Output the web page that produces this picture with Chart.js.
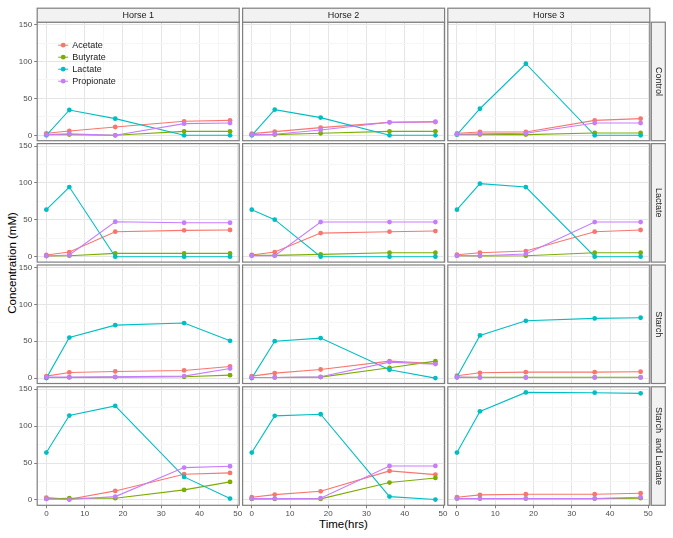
<!DOCTYPE html>
<html>
<head>
<meta charset="utf-8">
<script src="https://cdn.jsdelivr.net/npm/chart.js@4/dist/chart.umd.min.js"></script>
<style>
  body { margin: 0; background: #fff; }
  #wrap { position: relative; width: 673px; height: 538px; font-family: "Liberation Sans", Arial, sans-serif; }
  #wrap canvas { position: absolute; left: 0; top: 0; }
  #xtitle { position: absolute; left: 0; width: 687px; top: 518px; text-align: center; font-size: 11.5px; color: #000; }
  #ytitle { position: absolute; left: 12px; top: 263px; font-size: 11.5px; color: #000; white-space: nowrap;
            transform: translate(-50%, -50%) rotate(-90deg); }
</style>
</head>
<body>
<div id="wrap">
  <div id="xtitle">Time(hrs)</div>
  <div id="ytitle">Concentration (mM)</div>
</div>
<script>
var times = [0, 6, 18, 36, 48];
var horses = ['Horse 1', 'Horse 2', 'Horse 3'];
var treatments = ['Control', 'Lactate', 'Starch', 'Starch  and Lactate'];
var acids = ['Acetate', 'Butyrate', 'Lactate', 'Propionate'];
var acidColors = ['#F8766D', '#7CAE00', '#00BFC4', '#C77CFF'];
var xTicks = [0, 5, 10, 15, 20, 25, 30, 35, 40, 45, 50];
var yTicks = [0, 25, 50, 75, 100, 125, 150];

// one row per horse, one value per time point
var acetateControl = [[2.7, 5.9, 11.3, 19.0, 20.3], [2.3, 5.0, 10.4, 17.6, 18.0], [2.7, 4.5, 4.5, 20.3, 22.6]];
var butyrateControl = [[1.0, 1.0, 0.0, 5.4, 5.4], [0.5, 1.0, 2.7, 5.4, 5.4], [1.0, 1.0, 1.0, 3.2, 3.2]];
var lactateControl = [[0, 34.3, 22.6, 0, 0], [0, 34.8, 24.0, 0, 0], [1.0, 36.0, 97.0, 0, 0]];
var propionateControl = [[1.0, 2.0, 0.0, 15.8, 16.7], [1.0, 1.5, 7.2, 17.6, 18.5], [1.5, 2.0, 2.7, 16.7, 16.7]];

var acetateLactate = [[2.3, 6.3, 33.9, 35.7, 36.2], [2.3, 6.3, 32.0, 33.9, 34.8], [2.7, 5.4, 7.7, 33.9, 36.2]];
var butyrateLactate = [[1.0, 1.4, 4.5, 4.5, 4.5], [1.8, 1.8, 3.2, 5.4, 5.4], [1.4, 1.0, 1.4, 5.4, 5.4]];
var lactateLactate = [[63.7, 94.4, 0, 0, 0], [63.7, 50.2, 0, 0, 0], [63.7, 99.0, 94.4, 0, 0]];
var propionateLactate = [[1.0, 2.3, 47.4, 46.0, 46.0], [1.4, 1.4, 47.0, 47.0, 47.0], [1.4, 1.4, 3.6, 47.0, 47.0]];

var acetateStarch = [[2.7, 7.7, 9.0, 10.4, 15.8], [2.7, 6.8, 11.7, 23.0, 19.9], [3.2, 7.2, 8.1, 8.1, 8.6]];
var butyrateStarch = [[0.9, 0.9, 1.4, 1.8, 4.0], [0.9, 0.9, 1.4, 14.0, 23.0], [1.0, 1.0, 1.0, 1.0, 1.0]];
var lactateStarch = [[0, 55.0, 71.8, 74.6, 50.6], [0, 50.0, 54.2, 11.3, 0], [1.8, 57.8, 77.7, 80.9, 81.8]];
var propionateStarch = [[1.4, 1.4, 1.8, 2.7, 13.0], [0.9, 0.9, 1.8, 21.7, 19.0], [1.4, 0.9, 0.9, 0.9, 0.9]];

var acetateStarchLactate = [[3.2, 0.9, 12.2, 34.8, 36.6], [3.6, 7.2, 11.7, 39.3, 34.3], [3.6, 6.8, 7.7, 7.7, 9.0]];
var butyrateStarchLactate = [[1.4, 2.3, 2.3, 13.6, 24.4], [1.4, 1.4, 1.4, 23.5, 29.8], [1.8, 1.8, 1.8, 1.8, 2.3]];
var lactateStarchLactate = [[64.2, 114.3, 127.4, 31.2, 1.8], [64.2, 113.9, 116.1, 4.5, 0.5], [64.2, 120.0, 145.7, 145.3, 144.4]];
var propionateStarchLactate = [[1.4, 0.5, 4.5, 43.8, 45.6], [1.8, 1.8, 2.3, 46.0, 46.0], [1.8, 1.8, 1.8, 1.8, 3.6]];

// [treatment][acid] -> rows per horse
var table = [
    [acetateControl, butyrateControl, lactateControl, propionateControl],
    [acetateLactate, butyrateLactate, lactateLactate, propionateLactate],
    [acetateStarch, butyrateStarch, lactateStarch, propionateStarch],
    [acetateStarchLactate, butyrateStarchLactate, lactateStarchLactate, propionateStarchLactate]
];

// panel placement on the page
var W = 673, H = 538;
var colLeft = [37.2, 242.6, 447.8];
var panelW = 202;
var rowTop = [22.2, 143.6, 265, 386.8];
var panelH = 118.5;
var yAxisW = 26, xAxisH = 14;

var font = '"Liberation Sans", Arial, sans-serif';

var facetPlugin = {
    id: 'facet',
    afterDatasetsDraw: function (chart, args, opts) {
        var a = chart.chartArea, c = chart.ctx;
        c.save();
        c.strokeStyle = '#7f7f7f';
        c.lineWidth = 1.2;
        c.strokeRect(a.left, a.top, a.right - a.left, a.bottom - a.top);
        c.font = '9px ' + font;
        c.fillStyle = '#1a1a1a';
        c.textAlign = 'center';
        c.textBaseline = 'middle';
        if (opts.top) {
            c.fillStyle = '#f2f2f2';
            c.fillRect(a.left, a.top - 14, a.right - a.left, 14);
            c.strokeRect(a.left, a.top - 14, a.right - a.left, 14);
            c.fillStyle = '#1a1a1a';
            c.fillText(opts.top, (a.left + a.right) / 2, a.top - 7);
        }
        if (opts.right) {
            c.fillStyle = '#f2f2f2';
            c.fillRect(a.right + 1.5, a.top, 14, a.bottom - a.top);
            c.strokeRect(a.right + 1.5, a.top, 14, a.bottom - a.top);
            c.fillStyle = '#1a1a1a';
            c.save();
            c.translate(a.right + 8.5, (a.top + a.bottom) / 2);
            c.rotate(Math.PI / 2);
            c.fillText(opts.right, 0, 0);
            c.restore();
        }
        if (opts.legend) {
            c.textAlign = 'left';
            chart.data.datasets.forEach(function (ds, i) {
                var y = a.top + 23 + i * 12;
                var x0 = a.left + 21;
                c.strokeStyle = ds.borderColor;
                c.lineWidth = 1;
                c.beginPath();
                c.moveTo(x0, y);
                c.lineTo(x0 + 10, y);
                c.stroke();
                c.fillStyle = ds.borderColor;
                c.beginPath();
                c.arc(x0 + 5, y, 2.4, 0, Math.PI * 2);
                c.fill();
                c.fillStyle = '#1a1a1a';
                c.fillText(ds.label, x0 + 14, y + 0.5);
            });
        }
        c.restore();
    }
};
Chart.register(facetPlugin);

function gridColor(major) {
    return function (ctx) {
        if (!ctx.tick) return '#ebebeb';
        return ctx.tick.value % major === 0 ? '#e5e5e5' : '#f6f6f6';
    };
}

function makePanel(r, col) {
    var canvas = document.createElement('canvas');
    canvas.width = W;
    canvas.height = H;
    document.getElementById('wrap').appendChild(canvas);

    var isLeft = col === 0, isBottom = r === treatments.length - 1;
    var yw = isLeft ? yAxisW : 0, xh = isBottom ? xAxisH : 0;

    var datasets = acids.map(function (acid, i) {
        return {
            label: acid,
            data: times.map(function (t, k) { return { x: t, y: table[r][i][col][k] }; }),
            borderColor: acidColors[i],
            backgroundColor: acidColors[i],
            borderWidth: 1.1,
            pointRadius: 2.4,
            pointBorderWidth: 0,
            pointHoverRadius: 2.4,
            tension: 0,
            order: acids.length - i
        };
    });

    new Chart(canvas.getContext('2d'), {
        type: 'line',
        data: { datasets: datasets },
        options: {
            responsive: false,
            animation: false,
            devicePixelRatio: 1,
            layout: {
                padding: {
                    left: colLeft[col] - yw,
                    top: rowTop[r],
                    right: W - colLeft[col] - panelW,
                    bottom: H - rowTop[r] - panelH - xh
                }
            },
            scales: {
                x: {
                    type: 'linear',
                    min: -2.4,
                    max: 50.4,
                    afterBuildTicks: function (s) { s.ticks = xTicks.map(function (v) { return { value: v }; }); },
                    afterFit: function (s) { s.height = xh; },
                    border: { display: false },
                    grid: {
                        color: gridColor(10),
                        lineWidth: 1,
                        drawTicks: isBottom,
                        tickLength: 3,
                        tickColor: function (ctx) { return ctx.tick && ctx.tick.value % 10 === 0 ? '#7f7f7f' : 'rgba(0,0,0,0)'; }
                    },
                    ticks: {
                        display: isBottom,
                        autoSkip: false,
                        maxRotation: 0,
                        padding: 1,
                        color: '#4d4d4d',
                        font: { family: font, size: 8 },
                        callback: function (v) { return v % 10 === 0 ? String(v) : ''; }
                    }
                },
                y: {
                    type: 'linear',
                    min: -7.3,
                    max: 153.3,
                    afterBuildTicks: function (s) { s.ticks = yTicks.map(function (v) { return { value: v }; }); },
                    afterFit: function (s) { s.width = yw; },
                    border: { display: false },
                    grid: {
                        color: gridColor(50),
                        lineWidth: 1,
                        drawTicks: isLeft,
                        tickLength: 3,
                        tickColor: function (ctx) { return ctx.tick && ctx.tick.value % 50 === 0 ? '#7f7f7f' : 'rgba(0,0,0,0)'; }
                    },
                    ticks: {
                        display: isLeft,
                        autoSkip: false,
                        padding: 2,
                        color: '#4d4d4d',
                        font: { family: font, size: 8 },
                        callback: function (v) { return v % 50 === 0 ? String(v) : ''; }
                    }
                }
            },
            plugins: {
                legend: { display: false },
                tooltip: { enabled: false },
                facet: {
                    top: r === 0 ? horses[col] : null,
                    right: col === horses.length - 1 ? treatments[r] : null,
                    legend: r === 0 && col === 0
                }
            }
        }
    });
}

for (var r = 0; r < treatments.length; r++) {
    for (var col = 0; col < horses.length; col++) {
        makePanel(r, col);
    }
}
</script>
</body>
</html>
